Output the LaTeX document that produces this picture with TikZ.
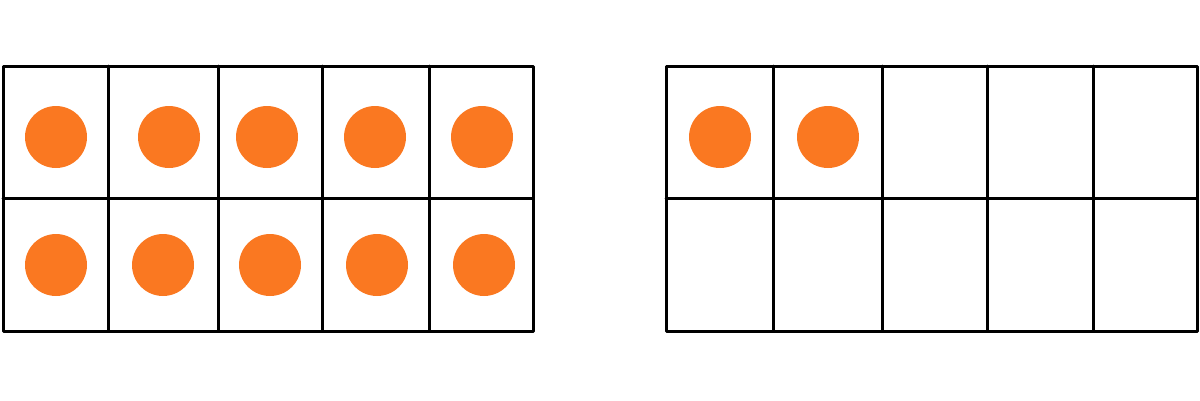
\documentclass[tikz,border=0pt]{standalone}
\usepackage{xcolor}
\usepackage{tikz}
\definecolor{dotorange}{RGB}{250,120,33}

\begin{document}
\begin{tikzpicture}[x=1pt, y=-1pt,
  frame/.style={draw, line width=3pt, line cap=round, line join=round},
  counter/.style={fill=dotorange}]
\useasboundingbox (0,0) rectangle (1200,400);
% full ten-frame
\draw[frame] (3,66) rectangle (533,331);
\draw[frame] (3,198) -- (533,198);
\foreach \x in {108,218,322,429} \draw[frame] (\x,66) -- (\x,331);
\foreach \x in {56,169,267,375,482} \fill[counter] (\x,137) circle (31);
\foreach \x in {56,163,270,377,484} \fill[counter] (\x,265) circle (31);
% second ten-frame
\draw[frame] (666,66) rectangle (1197,331);
\draw[frame] (666,198) -- (1197,198);
\foreach \x in {773,882,987,1093} \draw[frame] (\x,66) -- (\x,331);
\foreach \x in {720,828} \fill[counter] (\x,137) circle (31);
\end{tikzpicture}
\end{document}
